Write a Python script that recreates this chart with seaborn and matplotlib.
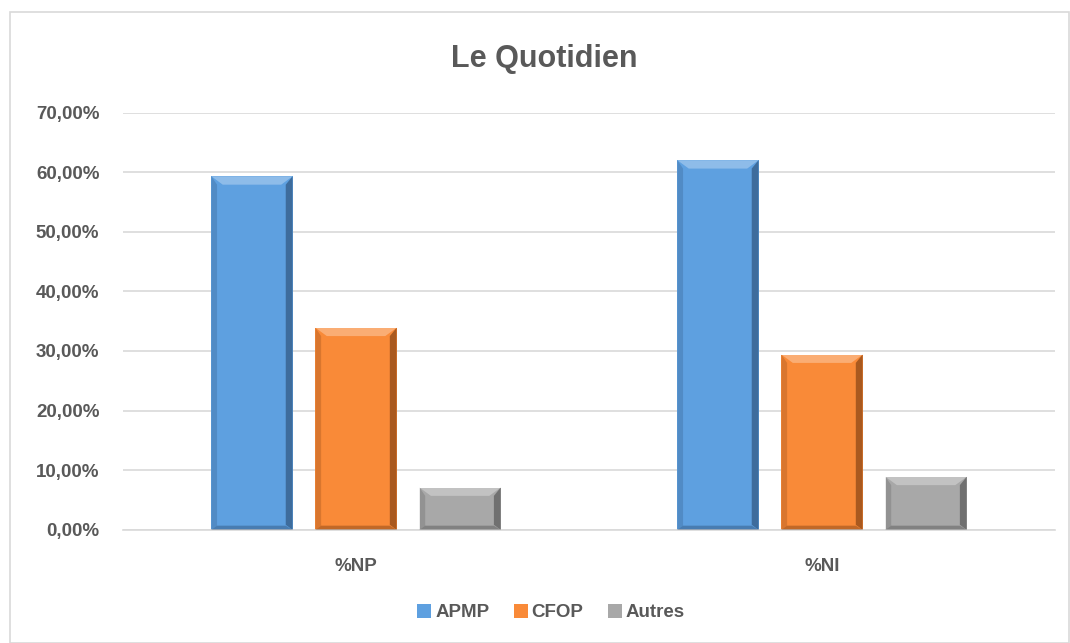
import matplotlib
matplotlib.use("Agg")
import matplotlib.pyplot as plt
import seaborn as sns
import pandas as pd
from matplotlib.patches import Polygon, Rectangle
from matplotlib.ticker import FuncFormatter, MultipleLocator

categories = ["%NP", "%NI"]
series = ["APMP", "CFOP", "Autres"]
apmp = [0.593, 0.620]
cfop = [0.339, 0.294]
autres = [0.071, 0.089]
colors = ["#5EA0E0", "#F98A38", "#A8A8A8"]
dark = ["#1F3A5A", "#5A2A08", "#3A3A3A"]

rows = []
for s, vals in zip(series, [apmp, cfop, autres]):
    for c, v in zip(categories, vals):
        rows.append({"cat": c, "serie": s, "val": v})
df = pd.DataFrame(rows)

sns.set_theme(style="white")
plt.rcParams['font.family'] = ['Liberation Sans', 'DejaVu Sans']

fig = plt.figure(figsize=(10.7, 6.43), dpi=100)
ax = fig.add_axes([0.115, 0.176, 0.871, 0.649])

sns.barplot(data=df, x="cat", y="val", hue="serie", order=categories,
            hue_order=series, palette=colors, width=0.67, gap=0.22,
            ax=ax, legend=True, saturation=1, linewidth=0)

# bevel effect derived from library-drawn patches
for i, bar in enumerate(ax.patches[:len(series) * len(categories)]):
    si = i // len(categories)
    x0, y0 = bar.get_x(), bar.get_y()
    w, h = bar.get_width(), bar.get_height()
    bx = w * 0.14
    by = 0.014
    top = y0 + h
    ax.add_patch(Polygon([[x0, top], [x0 + w, top], [x0 + w - bx, top - by], [x0 + bx, top - by]],
                         closed=True, facecolor="white", alpha=0.3, linewidth=0, zorder=3))
    ax.add_patch(Polygon([[x0 + w, top], [x0 + w, y0], [x0 + w - bx * 0.6, y0 + by * 0.6], [x0 + w - bx * 0.6, top - by]],
                         closed=True, facecolor=dark[si], alpha=0.5, linewidth=0, zorder=3))
    ax.add_patch(Polygon([[x0, top], [x0, y0], [x0 + bx * 0.5, y0 + by * 0.5], [x0 + bx * 0.5, top - by]],
                         closed=True, facecolor=dark[si], alpha=0.2, linewidth=0, zorder=3))
    ax.add_patch(Polygon([[x0, y0], [x0 + w, y0], [x0 + w - bx * 0.6, y0 + by * 0.5], [x0 + bx * 0.5, y0 + by * 0.5]],
                         closed=True, facecolor=dark[si], alpha=0.35, linewidth=0, zorder=3))

ax.set_ylim(0, 0.70)
ax.set_xlim(-0.5, 1.5)
ax.yaxis.set_major_locator(MultipleLocator(0.10))
ax.yaxis.set_major_formatter(FuncFormatter(lambda v, p: f"{v*100:.2f}%".replace('.', ',')))
ax.grid(axis="y", color="#D9D9D9", linewidth=1.2)
ax.set_axisbelow(True)
for sp in ["left", "right", "top"]:
    ax.spines[sp].set_visible(False)
ax.spines["bottom"].set_color("#D9D9D9")
ax.spines["bottom"].set_linewidth(1.2)
ax.set_xticks(range(len(categories)))
ax.set_xticklabels(categories, fontweight="bold", fontsize=13.5, color="#595959")
ax.tick_params(axis="y", length=0, pad=17, labelsize=13.5, labelcolor="#595959")
ax.tick_params(axis="x", length=0, pad=20)
for lab in ax.get_yticklabels():
    lab.set_fontweight("bold")
ax.set_xlabel("")
ax.set_ylabel("")

fig.text(0.509, 0.909, "Le Quotidien", ha="center", va="center", fontsize=22,
         fontweight="bold", color="#595959")

handles, labels = ax.get_legend_handles_labels()
ax.get_legend().remove()
leg = fig.legend(handles, labels, loc="center", bbox_to_anchor=(0.515, 0.047), ncol=3,
                 frameon=False, prop={"weight": "bold", "size": 13.5}, handlelength=0.75,
                 handleheight=0.75, handletextpad=0.2, columnspacing=1.3)
for t in leg.get_texts():
    t.set_color("#595959")

fig.add_artist(Rectangle((10 / 1070, 0.0), 1 - 10 / 1070 - 0.001, 1 - 12 / 643,
                         transform=fig.transFigure, fill=False, edgecolor="#D9D9D9", linewidth=1.2))

fig.savefig("out.png", dpi=100)
